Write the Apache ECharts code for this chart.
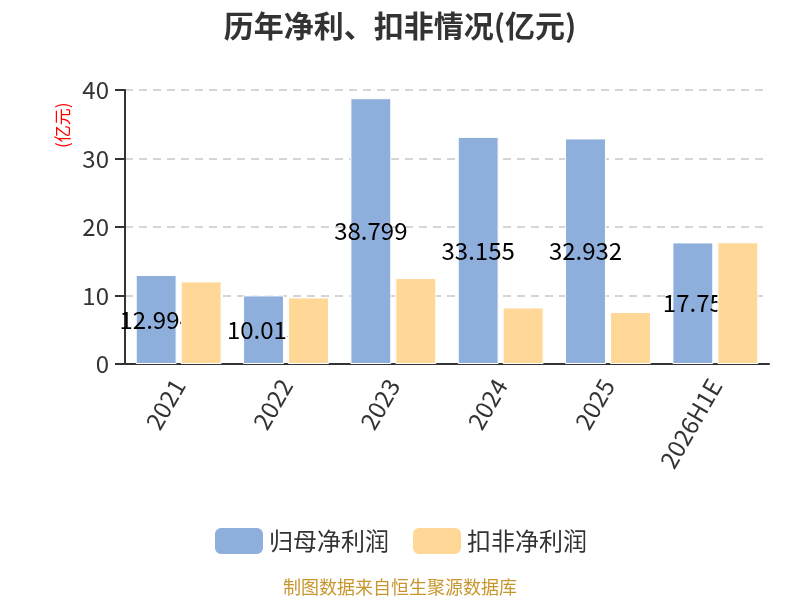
<!DOCTYPE html>
<html><head><meta charset="utf-8">
<script src="https://cdn.jsdelivr.net/npm/echarts@6/dist/echarts.min.js"></script>
<style>html,body{margin:0;padding:0;background:#fff}#c{width:800px;height:600px}</style>
</head><body><div id="c"></div>
<script>
const categories = ['2021','2022','2023','2024','2025','2026H1E'];
const netProfit = [12.994, 10.013, 38.799, 33.155, 32.932, 17.75];
const deductedProfit = [12.06, 9.72, 12.55, 8.25, 7.6, 17.76];
const yTicks = [0, 10, 20, 30, 40];
const font = '"Noto Sans CJK SC", "Noto Sans", sans-serif';
const chart = echarts.init(document.getElementById('c'));
chart.setOption({
  animation: false,
  textStyle: { fontFamily: font },
  title: {
    text: '历年净利、扣非情况(亿元)', left: 'center', top: 6,
    textStyle: { fontSize: 30, fontWeight: 'bold', color: '#333', fontFamily: font }
  },
  legend: {
    top: 521, left: 'center', itemWidth: 50, itemHeight: 28, itemGap: 22,
    textStyle: { fontSize: 24, color: '#333', fontFamily: font },
    data: ['归母净利润', '扣非净利润']
  },
  graphic: [
    { type: 'text', left: 'center', top: 578,
      style: { text: '制图数据来自恒生聚源数据库', fill: '#c8962e', font: '18px ' + font } },
    { type: 'text', x: 54, y: 148, rotation: Math.PI / 2,
      style: { text: '(亿元)', fill: '#ff0000', font: '17px ' + font } }
  ],
  grid: { left: 125, right: 31, top: 90, bottom: 236, containLabel: false },
  xAxis: {
    type: 'category', data: categories,
    axisLine: { lineStyle: { color: '#333', width: 2 } },
    axisTick: { lineStyle: { color: '#333', width: 2 }, length: 8 },
    axisLabel: { rotate: 60, fontSize: 24, color: '#333', margin: 17 }
  },
  yAxis: {
    type: 'value', min: yTicks[0], max: yTicks[yTicks.length - 1], interval: 10,
    axisLine: { show: true, lineStyle: { color: '#333', width: 2 } },
    axisTick: { show: true, lineStyle: { color: '#333', width: 2 }, length: 10 },
    axisLabel: { fontSize: 24, color: '#333', margin: 16 },
    splitLine: { lineStyle: { type: [8, 6], color: '#c8c8c8', width: 1.5 } }
  },
  series: [
    { name: '归母净利润', type: 'bar', data: netProfit, z: 2, barGap: '10%', barCategoryGap: '20%',
      itemStyle: { color: '#8eaedb', borderColor: '#fff', borderWidth: 1 },
      label: { show: true, position: 'inside', fontSize: 24, color: '#000', fontFamily: font } },
    { name: '扣非净利润', type: 'bar', data: deductedProfit, z: 3, barGap: '10%', barCategoryGap: '20%',
      itemStyle: { color: '#ffd898', borderColor: '#fff', borderWidth: 1 } }
  ]
});
</script></body></html>
